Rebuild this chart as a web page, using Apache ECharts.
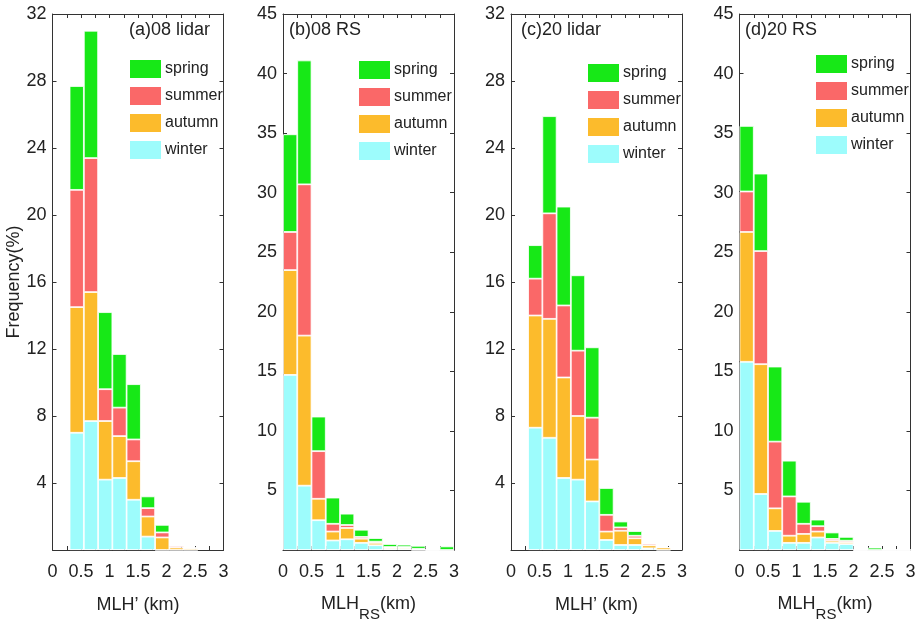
<!DOCTYPE html>
<html>
<head>
<meta charset="utf-8">
<script src="https://cdn.jsdelivr.net/npm/echarts@6/dist/echarts.min.js"></script>
<style>
html,body{margin:0;padding:0;background:#fff;}
#chart{width:916px;height:623px;}
</style>
</head>
<body>
<div id="chart"></div>
<script>
// ---- data ----
const seasons = ['spring', 'summer', 'autumn', 'winter'];
const lidarBinCenters = [0.425, 0.675, 0.925, 1.175, 1.425, 1.675, 1.925, 2.175, 2.425, 2.675];
const rsBinCenters = [0.125, 0.375, 0.625, 0.875, 1.125, 1.375, 1.625, 1.875, 2.125, 2.375, 2.625, 2.875];

// (a) 08 lidar
const aWinter = [7.0, 7.7, 4.2, 4.3, 3.0, 0.8, 0, 0, 0];
const aAutumn = [7.5, 7.7, 3.5, 2.5, 2.3, 1.2, 0.75, 0.15, 0.12];
const aSummer = [7.0, 8.0, 1.9, 1.7, 1.3, 0.5, 0.3, 0.1, 0];
const aSpring = [6.2, 7.6, 4.6, 3.2, 3.3, 0.7, 0.45, 0, 0];
// (b) 08 RS
const bWinter = [14.7, 5.4, 2.5, 0.8, 0.9, 0.6, 0.4, 0.1, 0.1, 0, 0, 0];
const bAutumn = [8.8, 12.6, 1.8, 0.75, 0.95, 0.35, 0.2, 0.1, 0.1, 0.05, 0, 0];
const bSummer = [3.2, 12.7, 4.0, 0.65, 0.25, 0.15, 0.1, 0.05, 0.05, 0.05, 0, 0];
const bSpring = [8.2, 10.4, 2.9, 2.2, 0.95, 0.6, 0.3, 0.25, 0.2, 0.25, 0, 0.3];
// (c) 20 lidar
const cWinter = [7.3, 6.7, 4.3, 4.2, 2.9, 0.6, 0.3, 0.3, 0.1, 0];
const cAutumn = [6.7, 7.1, 6.0, 3.8, 2.5, 0.5, 0.85, 0.4, 0.18, 0.15];
const cSummer = [2.2, 6.3, 4.3, 3.9, 2.5, 1.0, 0.2, 0.15, 0.1, 0];
const cSpring = [2.0, 5.8, 5.9, 4.5, 4.2, 1.6, 0.35, 0.28, 0, 0];
// (d) 20 RS
const dWinter = [15.8, 4.7, 1.6, 0.6, 0.6, 1.05, 0.6, 0.5, 0, 0, 0, 0];
const dAutumn = [10.9, 10.9, 1.9, 0.6, 0.75, 0.5, 0.18, 0.16, 0, 0, 0, 0];
const dSummer = [3.4, 9.5, 5.6, 3.3, 0.85, 0.45, 0.15, 0.12, 0, 0, 0, 0];
const dSpring = [5.5, 6.5, 6.3, 3.0, 1.85, 0.55, 0.54, 0.32, 0, 0.2, 0, 0];

const panelTitles = ['(a)08 lidar', '(b)08 RS', '(c)20 lidar', '(d)20 RS'];
const xNames = ['MLH\u2019 (km)', '{m|MLH}{sub|RS}{m|(km)}', 'MLH\u2019 (km)', '{m|MLH}{sub|RS}{m|(km)}'];
const yMax = [32, 45, 32, 45];
const yStep = [4, 5, 4, 5];
const xTickLabels = ['0', '0.5', '1', '1.5', '2', '2.5', '3'];

// ---- styling / layout ----
const FONT = '"Liberation Sans", Arial, sans-serif';
const colors = { spring: '#17e817', summer: '#fa6868', autumn: '#fcbb2c', winter: '#9dfcfc' };
const lefts = [52.5, 283, 511, 739.5];
const gridW = 171, gridTop = 14, gridH = 536;
const titleLefts = [129, 289, 521, 745];
const legendPos = [[128, 58], [357, 59], [586, 62], [814, 53]];
const isRS = [false, true, false, true];

const panels = [
  { centers: lidarBinCenters, data: { winter: aWinter, autumn: aAutumn, summer: aSummer, spring: aSpring } },
  { centers: rsBinCenters, data: { winter: bWinter, autumn: bAutumn, summer: bSummer, spring: bSpring } },
  { centers: lidarBinCenters, data: { winter: cWinter, autumn: cAutumn, summer: cSummer, spring: cSpring } },
  { centers: rsBinCenters, data: { winter: dWinter, autumn: dAutumn, summer: dSummer, spring: dSpring } }
];

const axisLine = { show: true, onZero: false, lineStyle: { color: '#333', width: 1 } };
const tick = { show: true, inside: true, length: 4, lineStyle: { color: '#333' } };
const grid = [], xAxis = [], yAxis = [], series = [], title = [], legend = [];

panels.forEach((p, i) => {
  grid.push({ left: lefts[i], top: gridTop, width: gridW, height: gridH, outerBoundsMode: 'none', containLabel: false });
  xAxis.push({
    type: 'value', gridIndex: i, min: 0, max: 3, interval: 0.25, position: 'bottom',
    axisLine: axisLine, splitLine: { show: false }, axisTick: tick,
    axisLabel: {
      margin: 13, fontSize: 18, color: '#222', fontFamily: FONT,
      formatter: v => (Math.round(v * 4) % 2 === 0 ? xTickLabels[Math.round(v * 2)] : '')
    },
    name: xNames[i], nameLocation: 'middle', nameGap: isRS[i] ? 45 : 46,
    nameTextStyle: isRS[i] ? {
      fontSize: 18, color: '#222', fontFamily: FONT,
      rich: {
        m: { fontSize: 18, color: '#222', fontFamily: FONT, lineHeight: 27, verticalAlign: 'top' },
        sub: { fontSize: 15, color: '#222', fontFamily: FONT, lineHeight: 27, verticalAlign: 'bottom' }
      }
    } : { fontSize: 18, color: '#222', fontFamily: FONT }
  });
  xAxis.push({
    type: 'value', gridIndex: i, min: 0, max: 3, interval: 0.25, position: 'top',
    axisLine: axisLine, splitLine: { show: false }, axisTick: tick,
    axisLabel: { show: false }
  });
  yAxis.push({
    type: 'value', gridIndex: i, min: 0, max: yMax[i], interval: yStep[i], position: 'left',
    axisLine: axisLine, splitLine: { show: false }, axisTick: tick,
    axisLabel: { showMinLabel: false, margin: 6, fontSize: 18, color: '#222', fontFamily: FONT },
    name: i === 0 ? 'Frequency(%)' : '', nameLocation: 'middle', nameGap: 25,
    nameTextStyle: { fontSize: 18, color: '#222', fontFamily: FONT }
  });
  yAxis.push({
    type: 'value', gridIndex: i, min: 0, max: yMax[i], interval: yStep[i], position: 'right',
    axisLine: axisLine, splitLine: { show: false }, axisTick: tick,
    axisLabel: { show: false }
  });
  ['winter', 'autumn', 'summer', 'spring'].forEach(s => {
    series.push({
      type: 'bar', name: s, stack: 'p' + i,
      xAxisIndex: 2 * i, yAxisIndex: 2 * i,
      barWidth: gridW / 12, barGap: '0%',
      itemStyle: { color: colors[s], borderColor: '#fff', borderWidth: 0.8 },
      emphasis: { disabled: true },
      encode: { x: 1, y: 0 },
      data: p.data[s].map((v, k) => [v, p.centers[k]])
    });
  });
  title.push({
    text: panelTitles[i], left: titleLefts[i], top: 21, padding: 0,
    textStyle: { fontSize: 18, fontWeight: 'normal', color: '#222', fontFamily: FONT }
  });
  legend.push({
    data: seasons, orient: 'vertical', left: legendPos[i][0], top: legendPos[i][1], padding: 0,
    itemWidth: 33, itemHeight: 20, itemGap: 5, icon: 'rect', selectedMode: false,
    textStyle: { fontSize: 16, color: '#222', fontFamily: FONT, padding: [0, 0, 0, -2] }
  });
});

const chart = echarts.init(document.getElementById('chart'), null, { renderer: 'canvas' });
chart.setOption({
  animation: false,
  backgroundColor: '#fff',
  title: title, legend: legend,
  grid: grid, xAxis: xAxis, yAxis: yAxis, series: series
});
</script>
</body>
</html>
